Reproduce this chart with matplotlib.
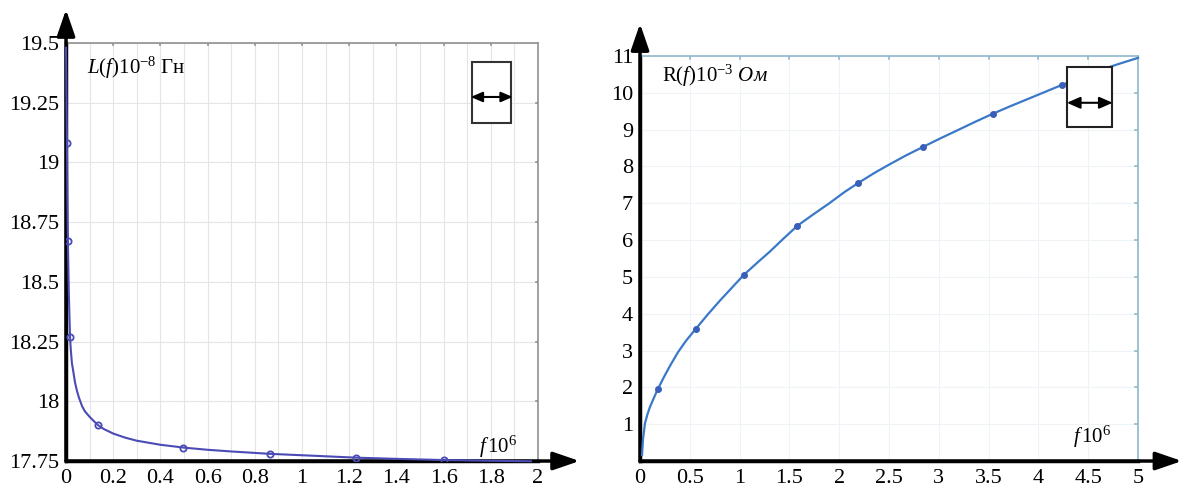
import matplotlib
matplotlib.use('Agg')
import matplotlib.pyplot as plt
from matplotlib.patches import Rectangle

plt.rcParams['font.family'] = ['Liberation Serif', 'DejaVu Serif']
plt.rcParams['mathtext.fontset'] = 'custom'
plt.rcParams['mathtext.rm'] = 'Liberation Serif'
plt.rcParams['mathtext.it'] = 'Liberation Serif:italic'

# left chart: inductance vs frequency
L_curve_f = [0.0, 0.002, 0.004, 0.006, 0.008, 0.012, 0.017, 0.02, 0.025, 0.03, 0.038, 0.046,
             0.055, 0.068, 0.08, 0.1, 0.12, 0.136, 0.16, 0.2, 0.25, 0.3, 0.4, 0.5, 0.6,
             0.7, 0.864, 1.05, 1.23, 1.4, 1.6, 1.8, 1.97]
L_curve_v = [19.48, 19.28, 19.08, 18.85, 18.67, 18.45, 18.27, 18.22, 18.16, 18.13, 18.08, 18.045,
             18.015, 17.98, 17.958, 17.935, 17.915, 17.90, 17.884, 17.865, 17.848, 17.835,
             17.818, 17.806, 17.797, 17.79, 17.78, 17.772, 17.764, 17.759, 17.754, 17.751,
             17.749]
L_pts_f = [0.004, 0.008, 0.017, 0.136, 0.496, 0.864, 1.23, 1.6]
L_pts_v = [19.08, 18.67, 18.27, 17.90, 17.806, 17.78, 17.764, 17.754]
L_xticks = [0, 0.2, 0.4, 0.6, 0.8, 1, 1.2, 1.4, 1.6, 1.8, 2]
L_yticks = [17.75, 18, 18.25, 18.5, 18.75, 19, 19.25, 19.5]

# right chart: resistance vs frequency
R_curve_f = [0.02, 0.03, 0.05, 0.075, 0.1, 0.14, 0.18, 0.24, 0.3, 0.38, 0.46, 0.56, 0.68,
             0.8, 0.92, 1.04, 1.17, 1.3, 1.44, 1.58, 1.74, 1.9, 2.05, 2.19, 2.35, 2.5,
             2.67, 2.84, 3.02, 3.2, 3.37, 3.54, 3.72, 3.9, 4.07, 4.24, 4.42, 4.6, 4.8, 5.0]
R_curve_v = [0.16, 0.6, 1.03, 1.27, 1.47, 1.72, 1.96, 2.28, 2.58, 2.95, 3.26, 3.59, 3.98,
             4.35, 4.7, 5.05, 5.37, 5.68, 6.04, 6.39, 6.7, 7.0, 7.3, 7.55, 7.82, 8.05,
             8.3, 8.53, 8.77, 9.0, 9.22, 9.43, 9.64, 9.84, 10.03, 10.22, 10.41, 10.6,
             10.78, 10.95]
R_pts_f = [0.18, 0.56, 1.04, 1.58, 2.19, 2.84, 3.54, 4.24]
R_pts_v = [1.96, 3.59, 5.05, 6.39, 7.55, 8.53, 9.43, 10.22]
R_xticks = [0, 0.5, 1, 1.5, 2, 2.5, 3, 3.5, 4, 4.5, 5]
R_yticks = [1, 2, 3, 4, 5, 6, 7, 8, 9, 10, 11]

fig = plt.figure(figsize=(11.85, 4.88), dpi=100)


def frame(ax, edge, gridc):
    for s in ['left', 'bottom']:
        ax.spines[s].set_color('black')
        ax.spines[s].set_linewidth(2.5)
    for s in ['top', 'right']:
        ax.spines[s].set_color(edge)
        ax.spines[s].set_linewidth(1.2)
    ax.tick_params(axis='both', which='both', length=0, labelsize=16)
    ax.tick_params(axis='x', pad=6)
    ax.tick_params(axis='y', pad=5)
    ax.grid(True, which='both', color=gridc, linewidth=0.8)
    ax.set_axisbelow(True)
    # arrows on axes
    ax.annotate('', xy=(0, 1.08), xycoords='axes fraction', xytext=(0, 0),
                arrowprops=dict(arrowstyle='-|>,head_length=1.6,head_width=0.55',
                                color='black', lw=2.5, shrinkA=0, shrinkB=0))
    ax.annotate('', xy=(1.088, 0), xycoords='axes fraction', xytext=(0, 0),
                arrowprops=dict(arrowstyle='-|>,head_length=1.6,head_width=0.55',
                                color='black', lw=2.5, shrinkA=0, shrinkB=0))


# ---- left
ax1 = fig.add_axes([0.0557, 0.0553, 0.3983, 0.8566])
ax1.set_xlim(0, 2)
ax1.set_ylim(17.75, 19.5)
ax1.set_xticks(L_xticks)
ax1.set_xticklabels(['%g' % v for v in L_xticks])
ax1.set_xticks([0.1, 0.3, 0.5, 0.7, 0.9, 1.1, 1.3, 1.5, 1.7, 1.9], minor=True)
ax1.set_yticks(L_yticks)
ax1.set_yticklabels(['%g' % v for v in L_yticks])
frame(ax1, '#909090', '#e2e6e6')
ax1.plot(L_curve_f, L_curve_v, color='#4b4bb5', lw=1.5, clip_on=False, zorder=3)
ax1.plot(L_pts_f, L_pts_v, 'o', ms=4.5, mfc='none', mec='#4b4bb5', mew=1.3, zorder=4)
# small ticks on top/right border
for v in L_xticks[1:-1]:
    ax1.plot([v, v], [19.5, 19.49], color='#909090', lw=1.2)
for v in L_yticks[1:-1]:
    ax1.plot([1.99, 2], [v, v], color='#909090', lw=1.2)
ax1.text(0.09, 19.37, r'$L(f)\mathrm{10^{-8}}$ Гн', fontsize=15)
ax1.text(1.75, 17.785, r'$f\,\mathrm{10^{6}}$', fontsize=15)
ax1.add_patch(Rectangle((1.72, 19.165), 0.166, 0.255, fc='white', ec='#333333', lw=1.5, zorder=5))
ax1.annotate('', xy=(1.715, 19.274), xytext=(1.893, 19.274),
             arrowprops=dict(arrowstyle='<|-|>,head_length=0.7,head_width=0.3',
                             color='black', lw=1.5, shrinkA=0, shrinkB=0), zorder=6)

# ---- right
ax2 = fig.add_axes([0.5401, 0.0553, 0.4203, 0.8299])
ax2.set_xlim(0, 5)
ax2.set_ylim(0, 11)
ax2.set_xticks(R_xticks)
ax2.set_xticklabels(['%g' % v for v in R_xticks])
ax2.set_yticks(R_yticks)
ax2.set_yticklabels(['%g' % v for v in R_yticks])
frame(ax2, '#8fb8cc', '#eef3f8')
ax2.plot(R_curve_f, R_curve_v, color='#3a78c8', lw=1.6, clip_on=False, zorder=3)
ax2.plot(R_pts_f, R_pts_v, 'o', ms=4, color='#3a5fb8', zorder=4)
for v in R_xticks[1:-1]:
    ax2.plot([v, v], [11, 10.93], color='#8fb8cc', lw=1.2)
for v in R_yticks[:-1]:
    ax2.plot([4.97, 5], [v, v], color='#8fb8cc', lw=1.2)
ax2.text(0.22, 10.3, r'R($f$)$\mathrm{10^{-3}}$ $\mathit{Ом}$', fontsize=15)
ax2.text(4.35, 0.5, r'$f\,\mathrm{10^{6}}$', fontsize=15)
ax2.add_patch(Rectangle((4.29, 9.08), 0.45, 1.62, fc='white', ec='#222222', lw=1.5, zorder=5))
ax2.annotate('', xy=(4.285, 9.73), xytext=(4.745, 9.73),
             arrowprops=dict(arrowstyle='<|-|>,head_length=0.8,head_width=0.35',
                             color='black', lw=1.5, shrinkA=0, shrinkB=0), zorder=6)

fig.savefig('out.png', dpi=100)
